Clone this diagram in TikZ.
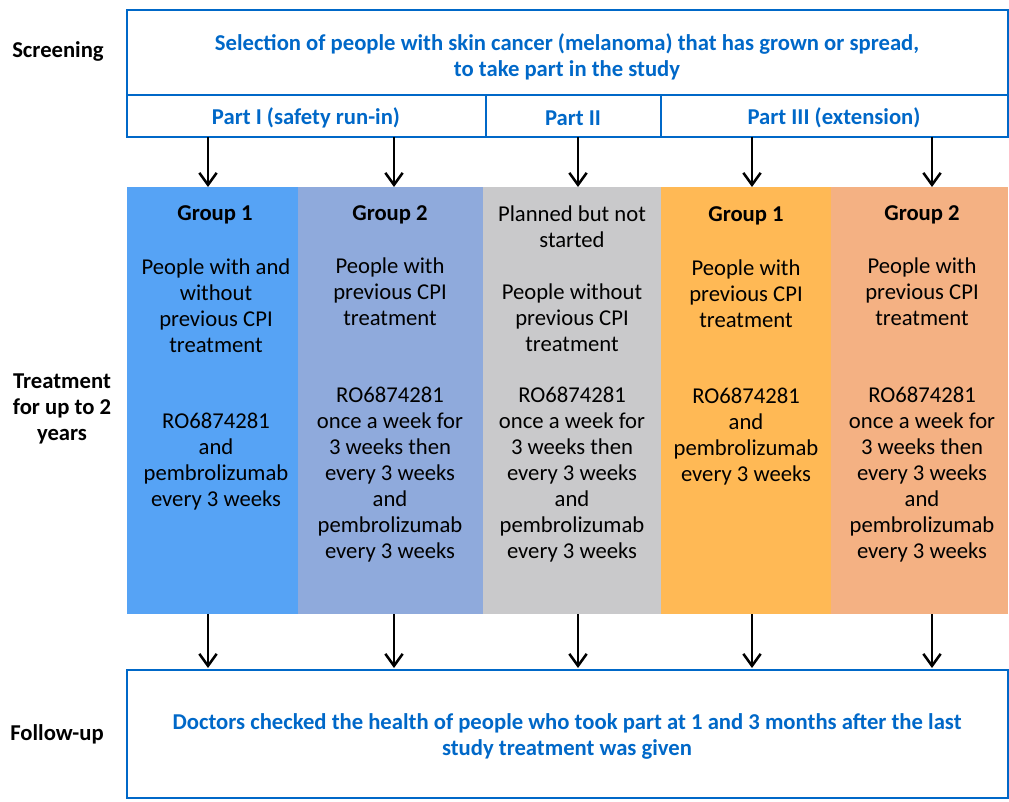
\documentclass[tikz,border=0pt]{standalone}
\usepackage{fontspec}
\setmainfont{Carlito}
\usetikzlibrary{arrows.meta}
\definecolor{studyblue}{HTML}{0068C8}
\definecolor{grpA}{HTML}{56A3F5}
\definecolor{grpB}{HTML}{8FAADC}
\definecolor{grpC}{HTML}{C9C9CB}
\definecolor{grpD}{HTML}{FFB955}
\definecolor{grpE}{HTML}{F4B183}

\begin{document}
\begin{tikzpicture}[
        x=0.75pt, y=-0.75pt,
        frame/.style={draw=studyblue, line width=1.5pt},
        bluetext/.style={text=studyblue, font=\fontsize{17}{19.5}\selectfont\bfseries, align=center, inner sep=0pt},
        rowlabel/.style={text=black, font=\fontsize{17}{19.5}\selectfont\bfseries, align=center, inner sep=0pt},
        coltext/.style={text=black, font=\fontsize{17}{19.5}\selectfont, align=center, inner sep=0pt, anchor=north},
        colhead/.style={coltext, font=\fontsize{17}{19.5}\selectfont\bfseries},
        arr/.style={-{Straight Barb[length=9pt, width=13pt]}, line width=1.9pt, black}
    ]
    \useasboundingbox (0,0) rectangle (1009,802);

    % Row labels
    \node[rowlabel] (screen) at (58,51) {Screening};
    \node[rowlabel] (treat) at (62,409) {Treatment\\for up to 2\\years};
    \node[rowlabel] (follow) at (57,734) {Follow-up};

    % Screening box and study parts
    \draw[frame] (127,10) rectangle (1008,137);
    \draw[frame] (127,95) -- (1008,95);
    \draw[frame] (486,95) -- (486,137);
    \draw[frame] (661,95) -- (661,137);
    \node[bluetext] (select) at (567,57) {Selection of people with skin cancer (melanoma) that has grown or spread,\\to take part in the study};
    \node[bluetext] (part1) at (306,118) {Part I (safety run-in)};
    \node[bluetext] (part2) at (573,118) {Part II};
    \node[bluetext] (part3) at (834,118) {Part III (extension)};

    % Treatment columns
    \fill[grpA] (127,187) rectangle (298,614);
    \fill[grpB] (298,187) rectangle (483,614);
    \fill[grpC] (483,187) rectangle (661,614);
    \fill[grpD] (661,187) rectangle (831,614);
    \fill[grpE] (831,187) rectangle (1008,614);

    % Group 1 (Part I)
    \node[colhead] (g1head) at (215,205) {Group 1};
    \node[coltext] (g1who) at (216,258) {People with and\\without\\previous CPI\\treatment};
    \node[coltext] (g1drug) at (216,413) {RO6874281\\and\\pembrolizumab\\every 3 weeks};

    % Group 2 (Part I)
    \node[colhead] (g2head) at (390,205) {Group 2};
    \node[coltext] (g2who) at (390,257) {People with\\previous CPI\\treatment};
    \node[coltext] (g2drug) at (390,387) {RO6874281\\once a week for\\3 weeks then\\every 3 weeks\\and\\pembrolizumab\\every 3 weeks};

    % Part II
    \node[coltext] (p2head) at (572,205) {Planned but not\\started};
    \node[coltext] (p2who) at (572,283) {People without\\previous CPI\\treatment};
    \node[coltext] (p2drug) at (572,387) {RO6874281\\once a week for\\3 weeks then\\every 3 weeks\\and\\pembrolizumab\\every 3 weeks};

    % Group 1 (Part III)
    \node[colhead] (g3head) at (746,206) {Group 1};
    \node[coltext] (g3who) at (746,259) {People with\\previous CPI\\treatment};
    \node[coltext] (g3drug) at (746,388) {RO6874281\\and\\pembrolizumab\\every 3 weeks};

    % Group 2 (Part III)
    \node[colhead] (g4head) at (922,205) {Group 2};
    \node[coltext] (g4who) at (922,257) {People with\\previous CPI\\treatment};
    \node[coltext] (g4drug) at (922,387) {RO6874281\\once a week for\\3 weeks then\\every 3 weeks\\and\\pembrolizumab\\every 3 weeks};

    % Follow-up box
    \draw[frame] (127,670) rectangle (1008,798);
    \node[bluetext] (check) at (567,736) {Doctors checked the health of people who took part at 1 and 3 months after the last\\study treatment was given};

    % Arrows
    \foreach \name/\x in {a/208, b/394, c/578, d/752, e/932} {
        \coordinate (\name top) at (\x,137);
        \coordinate (\name in) at (\x,187);
        \coordinate (\name out) at (\x,614);
        \coordinate (\name end) at (\x,668);
        \draw[arr] (\name top) -- (\name in);
        \draw[arr] (\name out) -- (\name end);
    }
\end{tikzpicture}
\end{document}
